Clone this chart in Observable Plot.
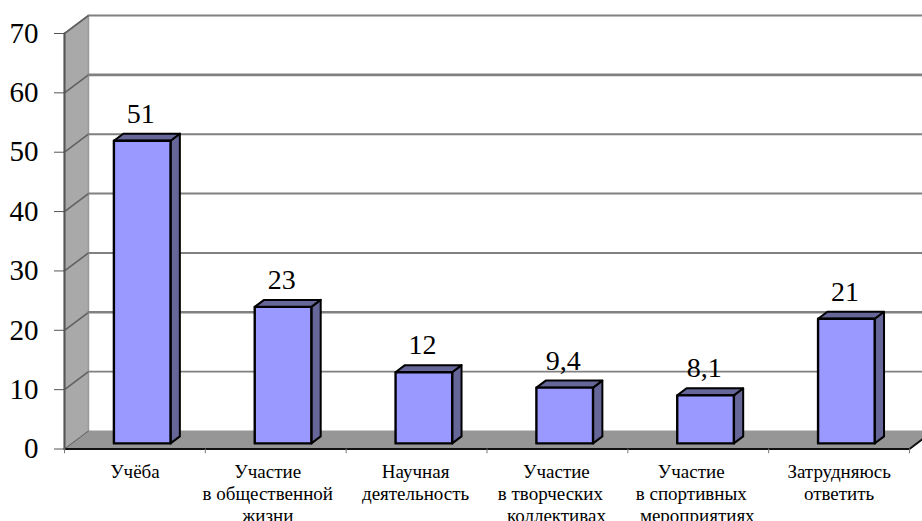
<!DOCTYPE html>
<html lang="ru">
<head>
<meta charset="utf-8">
<script src="https://cdn.jsdelivr.net/npm/d3@7"></script>
<script src="https://cdn.jsdelivr.net/npm/@observablehq/plot@0.6"></script>
<style>
  html, body { margin: 0; padding: 0; background: #fff; overflow: hidden; }
  svg text { font-family: "Liberation Serif", "Times New Roman", serif !important; }
</style>
</head>
<body>
<div id="chart"></div>
<script>
const categories = ["Учёба", "Участие в общественной жизни", "Научная деятельность", "Участие в творческих коллективах", "Участие в спортивных мероприятиях", "Затрудняюсь ответить"];
const values = [51, 23, 12, 9.4, 8.1, 21];
const valueLabels = ["51", "23", "12", "9,4", "8,1", "21"];
const yTicks = [0, 10, 20, 30, 40, 50, 60, 70];
const labelLines = [
  ["Учёба"],
  ["Участие", "в общественной", "жизни"],
  ["Научная", "деятельность"],
  ["Участие", "в творческих", "коллективах"],
  ["Участие", "в спортивных", "мероприятиях"],
  ["Затрудняюсь", "ответить"]
];
const lineShifts = [[0], [-8, -8, -8], [-1, -1], [-1, -7, -1], [-7, -7, -1], [0, 0]];

// 3D projection expressed in data units
const depthX = 24 / 141, depthY = 18 / 5.936;
const project = (x, v, d) => ({x: x + d * depthX, y: v + d * depthY});
const barW = 0.402, gap = (1 - barW) / 2 - 0.001, d0 = 0.31, d1 = 0.70;
const face = (pts, o) => Plot.line(pts, {x: "x", y: "y", curve: "linear-closed", ...o});
const N = categories.length, TOP = yTicks[yTicks.length - 1];

const marks = [];
// floor
marks.push(face([project(0,0,0), project(N,0,0), project(N,0,1), project(0,0,1)], {fill: "#969696", stroke: "#969696", strokeWidth: 1}));
// side wall
marks.push(face([project(0,0,0), project(0,TOP,0), project(0,TOP,1), project(0,0,1)], {fill: "#A9A9A9", stroke: "#999", strokeWidth: 1.5}));
// gridlines
for (const t of yTicks) {
  marks.push(Plot.line([project(0,t,0), project(0,t,1)], {x: "x", y: "y", stroke: "#606060", strokeWidth: t === 0 ? 1 : 1.6}));
  if (t > 0) marks.push(Plot.line([project(0,t,1), project(N,t,1)], {x: "x", y: "y", stroke: "#808080", strokeWidth: t === 60 ? 2.6 : t === 20 ? 2.4 : 1.9}));
}
// floor front edge + right edge
marks.push(Plot.line([project(N,0,1), project(N,0,0), project(0,0,0)], {x: "x", y: "y", stroke: "#111", strokeWidth: 2}));
// vertical axis line
marks.push(Plot.line([project(0,0,0), project(0,TOP,0)], {x: "x", y: "y", stroke: "#555", strokeWidth: 2}));
// category ticks
marks.push(Plot.ruleX(d3.range(N + 1), {y1: 0, y2: -0.8, stroke: "#777", strokeWidth: 1}));
// bars
values.forEach((v, i) => {
  const l = i + gap, r = l + barW;
  const style = {stroke: "#000", strokeWidth: 2, strokeLinejoin: "round"};
  marks.push(face([project(r,0,d0), project(r,v,d0), project(r,v,d1), project(r,0,d1)], {fill: "#666699", ...style}));
  marks.push(face([project(l,v,d0), project(r,v,d0), project(r,v,d1), project(l,v,d1)], {fill: "#666699", ...style}));
  marks.push(face([project(l,0,d0), project(r,0,d0), project(r,v,d0), project(l,v,d0)], {fill: "#9999FF", strokeWidth: 2.4, stroke: "#000", strokeLinejoin: "round"}));
});
// value labels
marks.push(Plot.text(values.map((v, i) => ({...project(i + 0.5, v, d0), label: valueLabels[i]})), {
  x: "x", y: "y", text: "label", dy: -27, fontSize: 28, fill: "#000", dx: -1.5
}));
// category labels
labelLines.forEach((lines, i) => lines.forEach((line, k) => {
  marks.push(Plot.text([{x: i + 0.5, y: 0, line}], {
    x: "x", y: "y", text: "line", dx: lineShifts[i][k], dy: 23 + k * 22.2, fontSize: 19, fill: "#000"
  }));
}));
// y axis labels
marks.push(Plot.axisY(yTicks, {anchor: "left", tickSize: 10, tickPadding: 16, fontSize: 29, stroke: "#555", color: "#000", label: null, tickFormat: d => String(d)}));

const chart = Plot.plot({
  width: 922, height: 521,
  marginLeft: 64, marginRight: 13, marginTop: 33, marginBottom: 72,
  style: {background: "#fff", color: "#000"},
  x: {domain: [0, N], range: [64, 909], axis: null},
  y: {domain: [0, TOP], range: [448.5, 33]},
  marks
});
document.getElementById("chart").appendChild(chart);
</script>
</body>
</html>
